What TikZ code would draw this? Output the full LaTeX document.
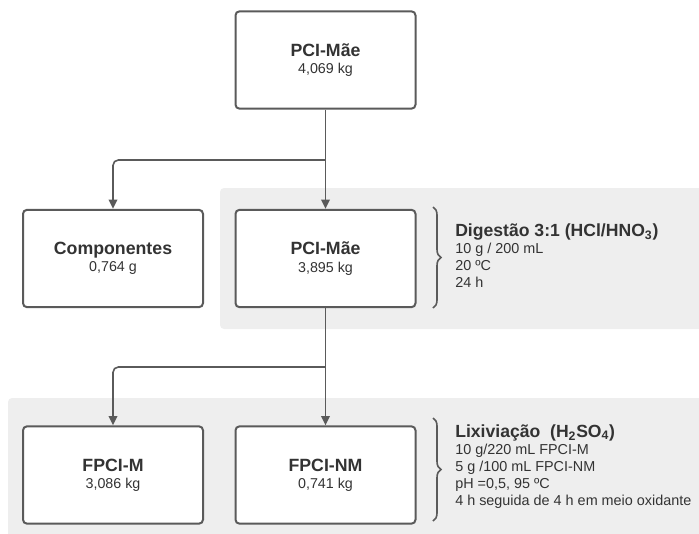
\documentclass[tikz,border=0pt]{standalone}
\usepackage{fontspec}
\setmainfont{Liberation Sans}
\usetikzlibrary{arrows.meta,decorations.pathreplacing}
\definecolor{vien}{HTML}{5A5A5A}
\definecolor{nen}{HTML}{EEEEEE}
\definecolor{chu}{HTML}{333333}
\newcommand{\hopchu}[2]{{\fontsize{13.3}{15}\selectfont\bfseries #1}\\[1pt]{\fontsize{10.7}{12}\selectfont #2}}
\begin{document}
\begin{tikzpicture}[x=0.75pt,y=-0.75pt,
	hop/.style={draw=vien,line width=1.5pt,rounded corners=3pt,fill=white,text=chu,
		minimum width=135pt,minimum height=73pt,align=center},
	noi/.style={draw=vien,line width=1.2pt,-{Triangle[length=7pt,width=6.5pt]}},
	ngoac/.style={draw=vien,line width=1.2pt,decorate,decoration={brace,amplitude=6pt}},
	ghichu/.style={anchor=north west,inner sep=0pt,align=left,text=chu,
		font=\fontsize{10.8}{12.8}\selectfont}]
	\useasboundingbox (0,0) rectangle (699,533);
	% nen xam
	\fill[nen,rounded corners=3pt] (220,188) rectangle (710,329);
	\fill[nen,rounded corners=3pt] (8,398) rectangle (710,545);
	% cac hop
	\node[hop] (top) at (325.5,60) {\hopchu{PCI-Mãe}{4,069 kg}};
	\node[hop] (comp) at (113,258.5) {\hopchu{Componentes}{0,764 g}};
	\node[hop] (pm) at (325.5,258.5) {\hopchu{PCI-Mãe}{3,895 kg}};
	\node[hop] (fm) at (113,475) {\hopchu{FPCI-M}{3,086 kg}};
	\node[hop] (fnm) at (325.5,475) {\hopchu{FPCI-NM}{0,741 kg}};
	% mui ten
	\coordinate (re1) at (325.5,160);
	\coordinate (re2) at (325.5,367);
	\draw[noi] (top) -- (pm);
	\draw[noi,rounded corners=4pt] (re1) -| (comp.north);
	\draw[noi] (pm) -- (fnm);
	\draw[noi,rounded corners=4pt] (re2) -| (fm.north);
	% ngoac va ghi chu
	\draw[ngoac] (433,207) -- (433,308);
	\draw[ngoac] (433,418) -- (433,521);
	\node[ghichu] (dig) at (455,223) {{\fontsize{13.2}{13}\selectfont\bfseries Digestão 3:1 (HCl/HNO\textsubscript{3})}\\
		10 g / 200 mL\\ 20 ºC\\ 24 h};
	\node[ghichu] (lix) at (455,424) {{\fontsize{13.2}{13}\selectfont\bfseries Lixiviação~ (H\textsubscript{2}SO\textsubscript{4})}\\
		10 g/220 mL FPCI-M\\ 5 g /100 mL FPCI-NM\\ pH =0,5, 95 ºC\\ 4 h seguida de 4 h em meio oxidante};
\end{tikzpicture}
\end{document}
